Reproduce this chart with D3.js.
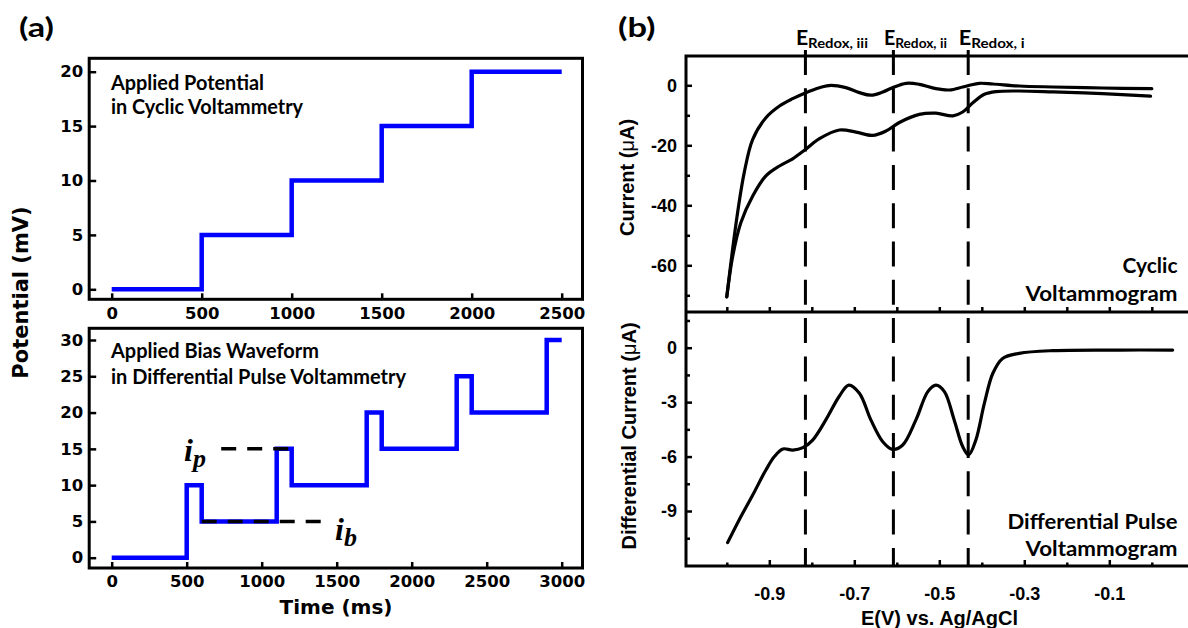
<!DOCTYPE html>
<html><head><meta charset="utf-8">
<script src="https://cdn.jsdelivr.net/npm/d3@7"></script>
<style>body{margin:0;background:#fff}svg{display:block}</style>
</head><body>
<svg id="c" width="1188" height="628"></svg>
<script>
// ---------- DATA ----------
// (a) top: staircase potential in cyclic voltammetry
const cvTime = [0, 500, 1000, 1500, 2000, 2500];
const cvPot  = [0, 5, 10, 15, 20, 20];
const a1XTicks = [0, 500, 1000, 1500, 2000, 2500];
const a1XLabels = ["0", "500", "1000", "1500", "2000", "2500"];
const a1YTicks = [0, 5, 10, 15, 20];
const a1YLabels = ["0", "5", "10", "15", "20"];
// (a) bottom: differential pulse waveform
const dpTime = [0, 500, 600, 1100, 1200, 1700, 1800, 2300, 2400, 2900, 3000];
const dpPot  = [0, 10, 5, 15, 10, 20, 15, 25, 20, 30, 30];
const a2XTicks = [0, 500, 1000, 1500, 2000, 2500, 3000];
const a2XLabels = ["0", "500", "1000", "1500", "2000", "2500", "3000"];
const a2YTicks = [0, 5, 10, 15, 20, 25, 30];
const a2YLabels = ["0", "5", "10", "15", "20", "25", "30"];
const ipLine = [730, 1200, 15];   // start ms, end ms, level
const ibLine = [600, 1400, 5];
// (b) cyclic voltammogram (two branches)
const cvUpperE = [-1.0,-0.978,-0.959,-0.939,-0.908,-0.876,-0.845,-0.814,-0.782,-0.755,-0.72,-0.688,-0.661,-0.633,-0.61,-0.578,-0.547,-0.508,-0.476,-0.445,-0.429,-0.406,-0.374,-0.312,-0.233,-0.116,0.0];
const cvUpperI = [-70.5,-45.8,-29.1,-18.0,-10.8,-6.9,-4.45,-2.45,-0.79,0.0,-0.79,-2.45,-3.3,-2.23,-0.79,0.66,0.33,-1.12,-1.56,-0.56,0.0,0.66,0.44,-0.23,-0.56,-0.9,-1.12];
const cvLowerE = [-1.0,-0.986,-0.967,-0.939,-0.908,-0.876,-0.845,-0.814,-0.782,-0.735,-0.696,-0.657,-0.625,-0.594,-0.547,-0.508,-0.468,-0.445,-0.421,-0.394,-0.367,-0.312,-0.233,-0.116,-0.003];
const cvLowerI = [-70.5,-56.9,-45.8,-36.9,-30.2,-26.9,-24.5,-21.3,-17.8,-14.9,-15.6,-16.7,-15.2,-12.4,-9.7,-9.3,-10.2,-8.9,-5.8,-3.0,-2.1,-1.9,-2.2,-2.8,-3.6];
// (b) differential pulse voltammogram
const dpvE = [-0.998,-0.971,-0.939,-0.908,-0.888,-0.868,-0.845,-0.821,-0.798,-0.767,-0.735,-0.713,-0.688,-0.661,-0.633,-0.61,-0.586,-0.555,-0.527,-0.508,-0.488,-0.465,-0.445,-0.431,-0.414,-0.394,-0.374,-0.351,-0.312,-0.233,-0.076,0.049];
const dpvI = [-10.74,-9.49,-8.12,-6.74,-6.0,-5.58,-5.64,-5.51,-5.09,-3.98,-2.66,-2.06,-2.51,-3.98,-5.18,-5.6,-5.36,-3.98,-2.42,-2.06,-2.42,-3.98,-5.45,-5.91,-5.09,-3.07,-1.41,-0.59,-0.31,-0.16,-0.13,-0.13];
const redoxE = [-0.815, -0.608, -0.432];
const redoxSub = ["Redox, iii", "Redox, ii", "Redox, i"];
const bXMajor = [-0.9, -0.7, -0.5, -0.3, -0.1];
const bXMajorLabels = ["-0.9", "-0.7", "-0.5", "-0.3", "-0.1"];
const bXMinor = [-1.0, -0.8, -0.6, -0.4, -0.2, 0.0];
const cvYMajor = [0, -20, -40, -60];
const cvYLabels = ["0", "-20", "-40", "-60"];
const cvYMinor = [-10, -30, -50, -70];
const dpvYMajor = [0, -3, -6, -9];
const dpvYLabels = ["0", "-3", "-6", "-9"];
const dpvYMinor = [1.5, -1.5, -4.5, -7.5, -10.5];

// ---------- DRAW ----------
const svg = d3.select("#c");
svg.append("rect").attr("width", 1188).attr("height", 628).attr("fill", "#fff");

const TICKFONT_A = "'DejaVu Sans', sans-serif";
const TICKFONT_B = "'Liberation Sans', Arial, sans-serif";
const LABFONT = "Lato, 'Open Sans', sans-serif";

function styleAxis(g, font, size, sw) {
  g.select(".domain").remove();
  g.attr("font-family", null).attr("font-size", null);
  g.selectAll("line").attr("stroke", "#000").attr("stroke-width", sw);
  g.selectAll("text").attr("fill", "#000").style("font-family", font)
    .style("font-weight", "bold").style("font-size", size + "px");
}
function label(x, y, s, size, len, anchor) {
  return svg.append("text").attr("x", x).attr("y", y).text(s)
    .attr("text-anchor", anchor || "start")
    .attr("textLength", len).attr("lengthAdjust", "spacingAndGlyphs")
    .style("font-family", LABFONT).style("font-weight", "bold").style("font-size", size + "px");
}

// ===== panel (a) top =====
const A1 = {l: 89.2, r: 582.5, t: 58.3, b: 299.3};
const xA1 = d3.scaleLinear().domain([0, 2500]).range([111.7, 561.7]);
const yA1 = d3.scaleLinear().domain([0, 20]).range([289.3, 71.7]);

styleAxis(svg.append("g").attr("transform", `translate(${A1.l},0)`)
  .call(d3.axisLeft(yA1).tickValues(a1YTicks).tickFormat((d, i) => a1YLabels[i]).tickSizeInner(-7).tickSizeOuter(0).tickPadding(6)),
  TICKFONT_A, 16.5, 2.5);
styleAxis(svg.append("g").attr("transform", `translate(0,${A1.b})`)
  .call(d3.axisBottom(xA1).tickValues(a1XTicks).tickFormat((d, i) => a1XLabels[i]).tickSizeInner(-6).tickSizeOuter(0).tickPadding(8)),
  TICKFONT_A, 16.5, 2.5);

svg.append("path")
  .attr("d", d3.line().x((d, i) => xA1(cvTime[i])).y(d => yA1(d)).curve(d3.curveStepAfter)(cvPot))
  .attr("fill", "none").attr("stroke", "#0000ff").attr("stroke-width", 4.5);

svg.append("rect").attr("x", A1.l).attr("y", A1.t).attr("width", A1.r - A1.l).attr("height", A1.b - A1.t)
  .attr("fill", "none").attr("stroke", "#000").attr("stroke-width", 3);

label(111, 89.5, "Applied Potential", 20, 153);
label(111, 114, "in Cyclic Voltammetry", 20, 192);

// ===== panel (a) bottom =====
const A2 = {l: 89.2, r: 582.5, t: 328.3, b: 568};
const xA2 = d3.scaleLinear().domain([0, 3000]).range([111.7, 561.7]);
const yA2 = d3.scaleLinear().domain([0, 30]).range([557.7, 340]);

styleAxis(svg.append("g").attr("transform", `translate(${A2.l},0)`)
  .call(d3.axisLeft(yA2).tickValues(a2YTicks).tickFormat((d, i) => a2YLabels[i]).tickSizeInner(-7).tickSizeOuter(0).tickPadding(6)),
  TICKFONT_A, 16.5, 2.5);
styleAxis(svg.append("g").attr("transform", `translate(0,${A2.b})`)
  .call(d3.axisBottom(xA2).tickValues(a2XTicks).tickFormat((d, i) => a2XLabels[i]).tickSizeInner(-6).tickSizeOuter(0).tickPadding(7.5)),
  TICKFONT_A, 16.5, 2.5);

svg.append("path")
  .attr("d", d3.line().x((d, i) => xA2(dpTime[i])).y(d => yA2(d)).curve(d3.curveStepAfter)(dpPot))
  .attr("fill", "none").attr("stroke", "#0000ff").attr("stroke-width", 4.5);

[ipLine, ibLine].forEach(L => {
  svg.append("line").attr("x1", xA2(L[0])).attr("x2", xA2(L[1]))
    .attr("y1", yA2(L[2])).attr("y2", yA2(L[2]))
    .attr("stroke", "#000").attr("stroke-width", 3.5).attr("stroke-dasharray", "15,11");
});

svg.append("rect").attr("x", A2.l).attr("y", A2.t).attr("width", A2.r - A2.l).attr("height", A2.b - A2.t)
  .attr("fill", "none").attr("stroke", "#000").attr("stroke-width", 3);

label(111, 357.5, "Applied Bias Waveform", 20, 208);
label(111, 384, "in Differential Pulse Voltammetry", 20, 295);

function ital(x, y, main, sub) {
  const t = svg.append("text").attr("x", x).attr("y", y)
    .attr("font-family", "Liberation Serif, DejaVu Serif, serif")
    .attr("font-style", "italic").attr("font-weight", "bold").attr("font-size", 32);
  t.append("tspan").text(main);
  t.append("tspan").attr("dy", 6).attr("font-size", 26).text(sub);
}
ital(184, 461, "i", "p");
ital(335, 540, "i", "b");

svg.append("text").attr("x", 336).attr("y", 613.5).attr("text-anchor", "middle").text("Time (ms)")
  .style("font-family", TICKFONT_A).style("font-weight", "bold").style("font-size", "20px");

svg.append("text").attr("transform", "translate(20.5,292.5) rotate(-90)").attr("dy", "0.36em")
  .attr("text-anchor", "middle").text("Potential (mV)")
  .style("font-family", TICKFONT_A).style("font-weight", "bold").style("font-size", "21px");

label(19, 37, "(a)", 27, 35);

// ===== panel (b) =====
const B = {l: 686, r: 1188, t: 56, m: 312, b: 566};
const xB = d3.scaleLinear().domain([-1, 0]).range([726.8, 1151.8]);
const yB1 = d3.scaleLinear().domain([0, -60]).range([85.3, 265.3]);
const yB2 = d3.scaleLinear().domain([0, -9]).range([347.7, 511]);

// CV axes
styleAxis(svg.append("g").attr("transform", `translate(${B.l},0)`)
  .call(d3.axisLeft(yB1).tickValues(cvYMajor).tickFormat((d, i) => cvYLabels[i]).tickSizeInner(-6).tickSizeOuter(0).tickPadding(9)),
  TICKFONT_B, 18, 2.5);
styleAxis(svg.append("g").attr("transform", `translate(${B.l},0)`)
  .call(d3.axisLeft(yB1).tickValues(cvYMinor).tickFormat("").tickSizeInner(-4).tickSizeOuter(0)),
  TICKFONT_B, 18, 2.5);
styleAxis(svg.append("g").attr("transform", `translate(0,${B.m})`)
  .call(d3.axisBottom(xB).tickValues(bXMajor.concat(bXMinor)).tickFormat("").tickSizeInner(-5).tickSizeOuter(0)),
  TICKFONT_B, 18, 2.5);

// DPV axes
styleAxis(svg.append("g").attr("transform", `translate(${B.l},0)`)
  .call(d3.axisLeft(yB2).tickValues(dpvYMajor).tickFormat((d, i) => dpvYLabels[i]).tickSizeInner(-6).tickSizeOuter(0).tickPadding(9)),
  TICKFONT_B, 18, 2.5);
styleAxis(svg.append("g").attr("transform", `translate(${B.l},0)`)
  .call(d3.axisLeft(yB2).tickValues(dpvYMinor).tickFormat("").tickSizeInner(-4).tickSizeOuter(0)),
  TICKFONT_B, 18, 2.5);
styleAxis(svg.append("g").attr("transform", `translate(0,${B.b})`)
  .call(d3.axisBottom(xB).tickValues(bXMajor).tickFormat((d, i) => bXMajorLabels[i]).tickSizeInner(-6).tickSizeOuter(0).tickPadding(21)),
  TICKFONT_B, 18, 2.5);
styleAxis(svg.append("g").attr("transform", `translate(0,${B.b})`)
  .call(d3.axisBottom(xB).tickValues(bXMinor).tickFormat("").tickSizeInner(-3.5).tickSizeOuter(0)),
  TICKFONT_B, 18, 2.5);

// curves
const smooth = d3.curveCatmullRom.alpha(0.5);
const cvLine = d3.line().x(d => xB(d[0])).y(d => yB1(d[1])).curve(smooth);
svg.append("path").attr("d", cvLine(cvUpperE.map((e, i) => [e, cvUpperI[i]])))
  .attr("fill", "none").attr("stroke", "#000").attr("stroke-width", 3.2).attr("stroke-linecap", "round");
svg.append("path").attr("d", cvLine(cvLowerE.map((e, i) => [e, cvLowerI[i]])))
  .attr("fill", "none").attr("stroke", "#000").attr("stroke-width", 3.2).attr("stroke-linecap", "round");
const dpvLine = d3.line().x(d => xB(d[0])).y(d => yB2(d[1])).curve(smooth);
svg.append("path").attr("d", dpvLine(dpvE.map((e, i) => [e, dpvI[i]])))
  .attr("fill", "none").attr("stroke", "#000").attr("stroke-width", 3.2).attr("stroke-linecap", "round");

// frame lines
svg.append("path")
  .attr("d", `M${B.l},${B.t}H${B.r}M${B.l},${B.m}H${B.r}M${B.l},${B.b}H${B.r}M${B.l},${B.t - 1.5}V${B.b + 1.5}`)
  .attr("fill", "none").attr("stroke", "#000").attr("stroke-width", 3);

// redox dashed lines + labels
const redoxLen = [72, 63, 66];
redoxE.forEach((e, i) => {
  const x = xB(e);
  svg.append("line").attr("x1", x).attr("x2", x).attr("y1", 50).attr("y2", 567)
    .attr("stroke", "#000").attr("stroke-width", 3).attr("stroke-dasharray", "25,13.3");
  const t = svg.append("text").attr("x", x - 9.5).attr("y", 45)
    .attr("textLength", redoxLen[i]).attr("lengthAdjust", "spacingAndGlyphs")
    .style("font-family", LABFONT).style("font-weight", "bold").style("font-size", "20px");
  t.append("tspan").text("E");
  t.append("tspan").attr("dy", 3).style("font-size", "14px").text(redoxSub[i]);
});

// annotations
label(1177.5, 272.5, "Cyclic", 21, 55, "end");
label(1177.5, 300.5, "Voltammogram", 21, 152, "end");
label(1177.5, 528.5, "Differential Pulse", 21, 170, "end");
label(1177.5, 555.5, "Voltammogram", 21, 152, "end");

function vtitle(cx, cy, pre) {
  const t = svg.append("text").attr("transform", `translate(${cx},${cy}) rotate(-90)`).attr("dy", "0.36em")
    .attr("text-anchor", "middle")
    .style("font-family", TICKFONT_B).style("font-weight", "bold").style("font-size", "20px");
  t.append("tspan").text(pre + " (");
  t.append("tspan").style("font-weight", "normal").text("\u03BC");
  t.append("tspan").text("A)");
}
vtitle(627, 177.5, "Current");
vtitle(629, 436, "Differential Current");

svg.append("text").attr("x", 939.5).attr("y", 625).attr("text-anchor", "middle").text("E(V) vs. Ag/AgCl")
  .style("font-family", TICKFONT_B).style("font-weight", "bold").style("font-size", "20px");

label(618, 37, "(b)", 27, 37.5);
</script>
</body></html>
